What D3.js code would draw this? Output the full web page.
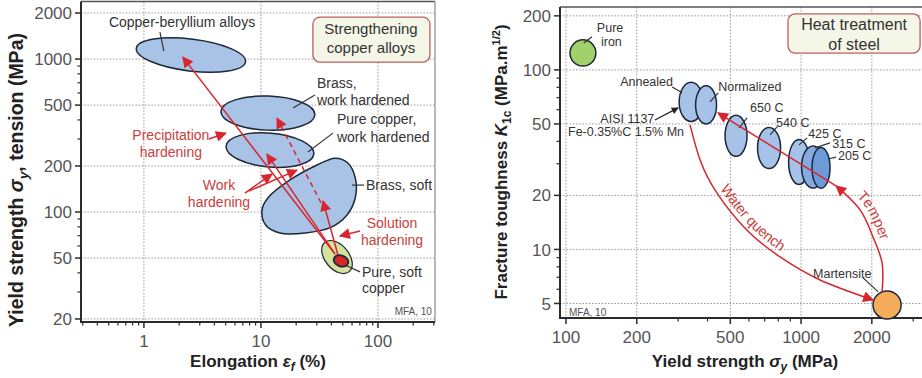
<!DOCTYPE html>
<html><head><meta charset="utf-8">
<script src="https://cdn.jsdelivr.net/npm/d3@7"></script>
<style>body{margin:0;background:#fff} svg{display:block;font-family:"Liberation Sans",Arial,Helvetica,sans-serif}</style>
</head><body><svg id="c" width="922" height="378"></svg>
<script>
// ===== Left panel: strengthening copper alloys (elongation %, yield strength MPa)
const cuXTicks = [1, 10, 100];
const cuYTicks = [20, 50, 100, 200, 500, 1000, 2000];
const cuNames = ["Copper-beryllium alloys", "Brass, work hardened", "Pure copper, work hardened", "Soft copper envelope", "Pure, soft copper"];
const cuElongLo = [0.854, 4.55, 5.02, 30.7, 41.7];
const cuElongHi = [7.45, 28.9, 28.4, 64.9, 56.0];
const cuStrengthLo = [835, 343, 197, 42.4, 44.1];
const cuStrengthHi = [1351, 573, 328, 60.8, 52.0];
const brassSoftElong = [43, 55, 64, 64, 54, 39, 24, 14.5, 11, 10.2, 11.5, 17.7, 29];
const brassSoftStrength = [225, 210, 167, 124, 95, 79, 73, 73, 82, 103, 124, 162, 200];
// arrows: [fromElong, fromStrength, toElong, toStrength]
const cuArrows = [[42.9, 53.2, 2.15, 1030], [42.9, 53.2, 11.25, 239], [45.5, 52.4, 33.9, 118],
  [3.59, 300, 5.02, 328], [7.30, 133, 12.4, 177], [7.89, 137, 20.3, 188], [70.2, 75.2, 47.3, 69.7]];
const cuDashedArrows = [[32.6, 115, 13.7, 411]];
const cuLeaders = [[1.37, 1502, 1.48, 1128], [28.9, 582, 18.8, 478], [41.2, 328, 25.2, 247], [60, 150, 75.9, 150], [52.2, 45.0, 70.2, 40.6]];
const cuLabels = [["Copper-beryllium alloys", 0.502, 1618], ["Brass,", 30.1, 646], ["work hardened", 30.1, 500],
  ["Pure copper,", 44.6, 376], ["work hardened", 44.6, 287], ["Brass, soft", 78.9, 139], ["Pure, soft", 73.0, 37.6], ["copper", 73.0, 29.6]];
const cuRedLabels = [["Precipitation", 1.70, 296], ["hardening", 1.70, 229], ["Work", 4.38, 139], ["hardening", 4.38, 108],
  ["Solution", 131.8, 78.6], ["hardening", 131.8, 60.9]];
const cuBox = [27.8, 278, 956, 1881];
const cuBoxText = [["Strengthening", 87.1, 1456], ["copper alloys", 87.1, 1095]];

// ===== Right panel: heat treatment of steel (yield strength MPa, K1c)
const stXTicks = [100, 200, 500, 1000, 2000];
const stYTicks = [5, 10, 20, 50, 100, 200];
const stNames = ["Pure iron", "Annealed", "Normalized", "650 C", "540 C", "425 C", "315 C", "205 C", "Martensite"];
const stYieldLo = [104, 303, 356, 475, 653, 885, 1005, 1113, 2024];
const stYieldHi = [134, 383, 437, 589, 818, 1086, 1259, 1328, 2665];
const stToughLo = [105, 51.6, 50.0, 33.0, 28.2, 23.0, 22.0, 21.9, 4.10];
const stToughHi = [147, 85.2, 81.5, 55.8, 47.8, 41.0, 37.7, 37.0, 5.87];
const quenchYield = [337, 372, 439, 589, 814, 1205, 2025];
const quenchTough = [49.4, 31.5, 20.6, 12.8, 9.08, 6.76, 5.23];
const temperYield = [2212, 2212, 2025, 1783, 1409];
const temperTough = [5.80, 8.41, 11.7, 16.6, 22.6];
const temperLine = [1409, 22.6, 443, 57.6];
const aisiArrow = [239, 52.6, 300, 61.4];
const stLeaders = [[129, 153, 119, 141], [283, 80.4, 312, 74.5], [444, 74.5, 410, 66.4], [589, 54.0, 545, 47.5], [791, 48.1, 738, 43.5],
  [1061, 41.8, 980, 38.2], [1328, 39.2, 1147, 36.8], [1409, 32.7, 1303, 31.9], [1836, 6.94, 2129, 5.80]];
const stLabels = [["Pure", 154, 163, "middle"], ["iron", 156, 136, "middle"], ["Annealed", 170, 81.5, "start"], ["Normalized", 444, 76.4, "start"],
  ["AISI 1137", 140, 50.7, "start"], ["Fe-0.35%C 1.5% Mn", 102, 42.9, "start"], ["650 C", 607, 58.4, "start"], ["540 C", 783, 48.1, "start"],
  ["425 C", 1072, 41.8, "start"], ["315 C", 1356, 36.8, "start"], ["205 C", 1436, 31.5, "start"], ["Martensite", 1125, 6.94, "start"]];
const stBox = [880, 3209, 124, 205];
const stBoxText = [["Heat treatment", 1681, 167], ["of steel", 1681, 129]];

// ===== styles
const RED = "#d7262f", REDTXT = "#c9413d", INK = "#2b2b2b", EDGE = "#1c2738";
const cuFill = ["#a9c3e7", "#a9c3e7", "#a9c3e7", "#d3e29c", "#d9262b"];
const cuTilt = [7, 2, 5, 50, 20];
const stFill = ["#a2d06a", "#a6c2e8", "#a6c2e8", "#a6c2e8", "#a6c2e8", "#a6c2e8", "#86abe0", "#6d9bd9", "#f5ac5a"];

const svg = d3.select("#c");
svg.append("rect").attr("width", 922).attr("height", 378).attr("fill", "#fff");
const defs = svg.append("defs");
function marker(id, color, w, h) {
  defs.append("marker").attr("id", id).attr("viewBox", "0 0 10 10").attr("refX", 9).attr("refY", 5)
    .attr("markerWidth", w).attr("markerHeight", h).attr("markerUnits", "userSpaceOnUse").attr("orient", "auto")
    .append("path").attr("d", "M0,0L10,5L0,10Z").attr("fill", color);
}
marker("ar", RED, 13, 11);
marker("ak", "#222", 9, 7);

const xL = d3.scaleLog().domain([0.29, 307]).range([81, 435]);
const yL = d3.scaleLog().domain([19.1, 2378]).range([322, 1.5]);
const xR = d3.scaleLog().domain([94.3, 3900]).range([560, 940]);
const yR = d3.scaleLog().domain([4.15, 224]).range([318, 7]);

function panel(x, y, xMajor, yMajor, labX, labY, rightFrame) {
  const g = svg.append("g");
  const [xa, xb] = x.range(), [yb, ya] = y.range();
  g.selectAll(null).data(xMajor).join("line").attr("x1", d => x(d)).attr("x2", d => x(d)).attr("y1", ya).attr("y2", yb)
    .attr("stroke", "#9d9d9d").attr("stroke-dasharray", "1.6,1.6");
  g.selectAll(null).data(yMajor).join("line").attr("y1", d => y(d)).attr("y2", d => y(d)).attr("x1", xa).attr("x2", xb)
    .attr("stroke", "#9d9d9d").attr("stroke-dasharray", "1.6,1.6");
  g.append("line").attr("x1", xa).attr("x2", xb).attr("y1", ya).attr("y2", ya).attr("stroke", "#555").attr("stroke-width", 1.5);
  if (rightFrame) g.append("line").attr("x1", xb).attr("x2", xb).attr("y1", ya).attr("y2", yb).attr("stroke", "#8a8a8a").attr("stroke-width", 1.2);
  g.append("line").attr("x1", xa).attr("x2", xa).attr("y1", ya).attr("y2", yb + 1).attr("stroke", INK).attr("stroke-width", 2);
  g.append("line").attr("x1", xa - 1).attr("x2", xb).attr("y1", yb).attr("y2", yb).attr("stroke", INK).attr("stroke-width", 2);
  const xMinor = x.ticks().filter(t => !xMajor.some(m => Math.abs(m - t) / m < 1e-6));
  const yMinor = y.ticks().filter(t => !yMajor.some(m => Math.abs(m - t) / m < 1e-6));
  g.selectAll(null).data(xMajor).join("line").attr("x1", d => x(d)).attr("x2", d => x(d)).attr("y1", yb).attr("y2", yb + 6).attr("stroke", INK).attr("stroke-width", 1.5);
  g.selectAll(null).data(xMinor).join("line").attr("x1", d => x(d)).attr("x2", d => x(d)).attr("y1", yb).attr("y2", yb + 3.5).attr("stroke", INK).attr("stroke-width", 1.2);
  g.selectAll(null).data(yMajor).join("line").attr("y1", d => y(d)).attr("y2", d => y(d)).attr("x1", xa - 6).attr("x2", xa).attr("stroke", INK).attr("stroke-width", 1.5);
  g.selectAll(null).data(yMinor).join("line").attr("y1", d => y(d)).attr("y2", d => y(d)).attr("x1", xa - 3.5).attr("x2", xa).attr("stroke", INK).attr("stroke-width", 1.2);
  g.selectAll(null).data(xMajor).join("text").attr("x", d => x(d)).attr("y", labX).attr("text-anchor", "middle")
    .attr("font-size", 17).attr("fill", "#555").text(d => d);
  g.selectAll(null).data(yMajor).join("text").attr("x", labY).attr("y", d => y(d)).attr("dy", "0.36em").attr("text-anchor", "end")
    .attr("font-size", 17).attr("fill", "#555").text(d => d);
}
panel(xL, yL, cuXTicks, cuYTicks, 347, 72, true);
panel(xR, yR, stXTicks, stYTicks, 343, 551, false);

function ellipse(g, x, y, lo, hi, ylo, yhi, fill, tilt, sw) {
  const cx = (x(lo) + x(hi)) / 2, cy = (y(ylo) + y(yhi)) / 2;
  g.append("ellipse").attr("cx", cx).attr("cy", cy).attr("rx", Math.abs(x(hi) - x(lo)) / 2).attr("ry", Math.abs(y(yhi) - y(ylo)) / 2)
    .attr("transform", `rotate(${tilt},${cx},${cy})`).attr("fill", fill).attr("stroke", EDGE).attr("stroke-width", sw);
}
function seg(g, x, y, d, color, w, mk, dash) {
  const l = g.append("line").attr("x1", x(d[0])).attr("y1", y(d[1])).attr("x2", x(d[2])).attr("y2", y(d[3]))
    .attr("stroke", color).attr("stroke-width", w);
  if (mk) l.attr("marker-end", `url(#${mk})`);
  if (dash) l.attr("stroke-dasharray", dash);
}

// ----- left marks
const gl = svg.append("g");
for (let i = 0; i < 3; i++) ellipse(gl, xL, yL, cuElongLo[i], cuElongHi[i], cuStrengthLo[i], cuStrengthHi[i], cuFill[i], cuTilt[i], 1.5);
gl.append("path").datum(brassSoftElong.map((e, i) => [xL(e), yL(brassSoftStrength[i])]))
  .attr("d", d3.line().curve(d3.curveCatmullRomClosed.alpha(0.5))).attr("fill", "#a9c3e7").attr("stroke", EDGE).attr("stroke-width", 1.5);
ellipse(gl, xL, yL, cuElongLo[3], cuElongHi[3], cuStrengthLo[3], cuStrengthHi[3], cuFill[3], cuTilt[3], 1.2);
cuLeaders.forEach(d => seg(gl, xL, yL, d, "#333", 1.2));
cuArrows.forEach(d => seg(gl, xL, yL, d, RED, 1.5, "ar"));
cuDashedArrows.forEach(d => seg(gl, xL, yL, d, RED, 1.5, "ar", "5,4"));
ellipse(gl, xL, yL, cuElongLo[4], cuElongHi[4], cuStrengthLo[4], cuStrengthHi[4], cuFill[4], cuTilt[4], 1.8);
cuLabels.forEach(d => gl.append("text").attr("x", xL(d[1])).attr("y", yL(d[2])).attr("font-size", 14).attr("fill", "#333").text(d[0]));
cuRedLabels.forEach(d => gl.append("text").attr("x", xL(d[1])).attr("y", yL(d[2])).attr("text-anchor", "middle").attr("font-size", 14).attr("fill", REDTXT).text(d[0]));
gl.append("rect").attr("x", xL(cuBox[0])).attr("y", yL(cuBox[3])).attr("width", xL(cuBox[1]) - xL(cuBox[0])).attr("height", yL(cuBox[2]) - yL(cuBox[3]))
  .attr("rx", 7).attr("fill", "#f4f6e8").attr("stroke", "#b6615f").attr("stroke-width", 1.3);
cuBoxText.forEach(d => gl.append("text").attr("x", xL(d[1])).attr("y", yL(d[2])).attr("text-anchor", "middle").attr("font-size", 15).attr("fill", "#333").text(d[0]));
gl.append("text").attr("x", xL(289)).attr("y", yL(21.2)).attr("text-anchor", "end").attr("font-size", 10).attr("fill", "#555").text("MFA, 10");

// ----- right marks
const gr = svg.append("g");
stNames.forEach((n, i) => ellipse(gr, xR, yR, stYieldLo[i], stYieldHi[i], stToughLo[i], stToughHi[i], stFill[i], 0, 1.5));
stLeaders.forEach(d => seg(gr, xR, yR, d, "#333", 1.2));
seg(gr, xR, yR, aisiArrow, "#222", 1.3, "ak");
const curve = d3.line().curve(d3.curveNatural);
const qPts = quenchYield.map((v, i) => [xR(v), yR(quenchTough[i])]);
gr.append("path").attr("id", "quench").attr("d", curve(qPts)).attr("fill", "none").attr("stroke", RED).attr("stroke-width", 1.5).attr("marker-end", "url(#ar)");
const tPts = temperYield.map((v, i) => [xR(v), yR(temperTough[i])]);
gr.append("path").attr("d", curve(tPts)).attr("fill", "none").attr("stroke", RED).attr("stroke-width", 1.5).attr("marker-end", "url(#ar)");
gr.append("path").attr("id", "temperTxt").attr("d", curve(tPts.slice().reverse())).attr("fill", "none");
seg(gr, xR, yR, temperLine, RED, 1.5, "ar");
gr.append("text").attr("font-size", 14.5).attr("fill", REDTXT).attr("dy", -5)
  .append("textPath").attr("href", "#quench").attr("startOffset", 72).text("Water quench");
gr.append("text").attr("font-size", 14.5).attr("fill", REDTXT).attr("dy", -6)
  .append("textPath").attr("href", "#temperTxt").attr("startOffset", 22).text("Temper");
stLabels.forEach(d => gr.append("text").attr("x", xR(d[1])).attr("y", yR(d[2])).attr("text-anchor", d[3]).attr("font-size", 12.5).attr("fill", "#333").text(d[0]));
gr.append("rect").attr("x", xR(stBox[0])).attr("y", yR(stBox[3])).attr("width", xR(stBox[1]) - xR(stBox[0])).attr("height", yR(stBox[2]) - yR(stBox[3]))
  .attr("rx", 7).attr("fill", "#f4f6e8").attr("stroke", "#b6615f").attr("stroke-width", 1.3);
stBoxText.forEach(d => gr.append("text").attr("x", xR(d[1])).attr("y", yR(d[2])).attr("text-anchor", "middle").attr("font-size", 16).attr("fill", "#333").text(d[0]));
gr.append("text").attr("x", xR(103)).attr("y", yR(4.26)).attr("font-size", 10).attr("fill", "#555").text("MFA, 10");

// ----- axis titles
function title(x, y, rot, size, parts) {
  const t = svg.append("text").attr("transform", `translate(${x},${y}) rotate(${rot})`).attr("text-anchor", "middle")
    .attr("font-weight", "bold").attr("font-size", size).attr("fill", "#222");
  parts.forEach(p => {
    const s = t.append("tspan").text(p[0]);
    if (p[1] === "i") s.attr("font-style", "italic");
    if (p[1] === "sub") s.attr("font-size", size * 0.7).attr("dy", size * 0.25);
    if (p[1] === "isub") s.attr("font-size", size * 0.7).attr("dy", size * 0.25).attr("font-style", "italic");
    if (p[1] === "sup") s.attr("font-size", size * 0.65).attr("dy", -size * 0.4);
    if (p[2]) s.attr("dy", p[2]);
  });
}
title(258, 367, 0, 17, [["Elongation "], ["ε", "i"], ["f", "isub"], [" (%)", "", -17 * 0.25]]);
title(23, 180, -90, 19.5, [["Yield strength "], ["σ", "i"], ["y", "isub"], [", tension (MPa)", "", -19.5 * 0.25]]);
title(745, 367, 0, 17, [["Yield strength "], ["σ", "i"], ["y", "isub"], [" (MPa)", "", -17 * 0.25]]);
title(507, 162, -90, 17, [["Fracture toughness "], ["K", "i"], ["1c", "sub"], [" (MPa.m", "", -17 * 0.25], ["1/2", "sup"], [")", "", 17 * 0.4]]);
</script></body></html>
